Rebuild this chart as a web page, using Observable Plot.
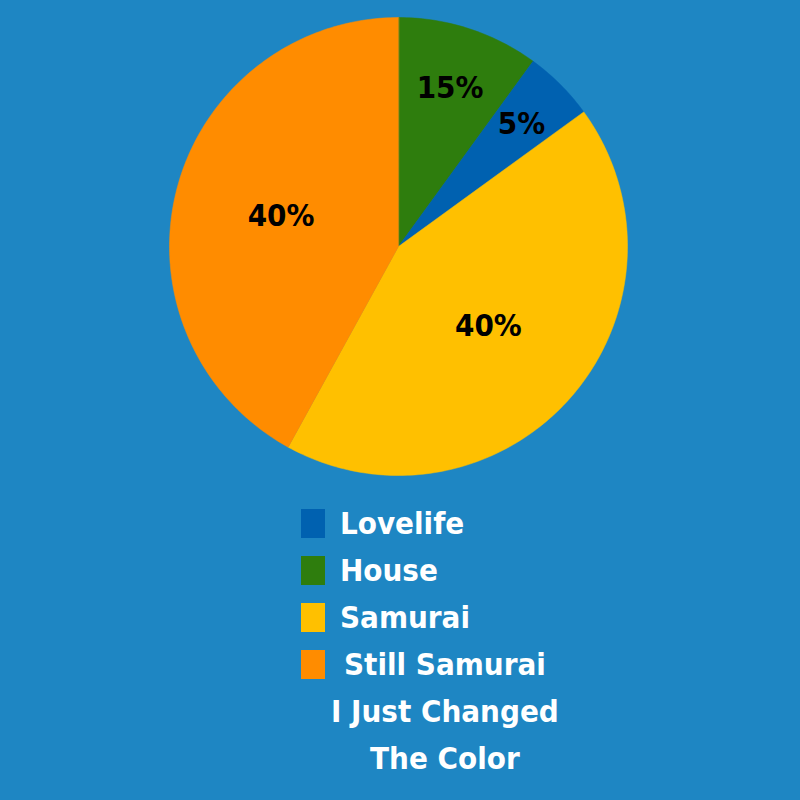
<!DOCTYPE html>
<html><head><meta charset="utf-8">
<script src="https://cdn.jsdelivr.net/npm/d3@7"></script>
<script src="https://cdn.jsdelivr.net/npm/@observablehq/plot@0.6"></script>
<style>
html,body{margin:0;padding:0;background:#1E86C3;width:800px;height:800px;overflow:hidden;}
#legend{margin-top:5px;font-family:"DejaVu Sans Condensed","Liberation Sans Narrow","Roboto",sans-serif;font-stretch:condensed;font-weight:bold;color:#fff;font-size:31px;}
.row{display:flex;align-items:flex-start;height:47px;}
.sw{width:24px;height:29px;margin-left:301px;margin-top:9px;flex:none;}
.tx{line-height:47px;margin-left:15px;white-space:pre;}
.tx.multi{text-align:center;margin-left:6px;}
</style></head><body><div id="chart"></div><div id="legend"></div>
<script>
// data
const categories = ["Lovelife", "House", "Samurai", "Still Samurai"];
const values = [5, 10, 43, 42];            // share of the circle
const pctLabels = ["5%", "15%", "40%", "40%"];
const colors = ["#0061B0", "#2E7D0D", "#FFC000", "#FF8C00"];
const sliceOrder = ["House", "Lovelife", "Samurai", "Still Samurai"]; // clockwise from 12 o'clock
const legendLabels = ["Lovelife", "House", "Samurai", "Still Samurai\nI Just Changed\nThe Color"];

const valueOf = Object.fromEntries(categories.map((c, i) => [c, values[i]]));
const labelOf = Object.fromEntries(categories.map((c, i) => [c, pctLabels[i]]));
const total = d3.sum(values);

// build slice polygons (unit circle) and label anchors
const slices = [], labels = [];
let acc = 0;
for (const c of sliceOrder) {
  const a0 = acc / total * 2 * Math.PI;
  acc += valueOf[c];
  const a1 = acc / total * 2 * Math.PI;
  slices.push({cat: c, x: 0, y: 0});
  const n = Math.max(2, Math.ceil((a1 - a0) / (Math.PI / 180)));
  for (let k = 0; k <= n; k++) {
    const a = a0 + (a1 - a0) * k / n;
    slices.push({cat: c, x: Math.sin(a), y: Math.cos(a)});
  }
  const am = (a0 + a1) / 2;
  const lr = 0.79 - 0.62 * valueOf[c] / total; // small slices: labels nearer the rim
  labels.push({cat: c, text: labelOf[c], x: lr * Math.sin(am), y: lr * Math.cos(am)});
}

const font = '"DejaVu Sans Condensed","Liberation Sans Narrow",Roboto,sans-serif';
const chart = Plot.plot({
  width: 800,
  height: 495,
  marginLeft: 169,
  marginRight: 173,
  marginTop: 17,
  marginBottom: 20,
  x: {domain: [-1, 1], axis: null},
  y: {domain: [-1, 1], axis: null},
  color: {domain: categories, range: colors},
  style: {background: "transparent", fontFamily: font, overflow: "visible"},
  marks: [
    Plot.line(slices, {x: "x", y: "y", z: "cat", fill: "cat", stroke: "cat", strokeWidth: 0.5, curve: "linear-closed"}),
    Plot.text(labels, {x: "x", y: "y", text: "text", fill: "black", fontSize: 31, fontWeight: "bold", fontFamily: font})
  ]
});
document.getElementById("chart").appendChild(chart);

const legend = document.getElementById("legend");
categories.forEach((c, i) => {
  const row = document.createElement("div");
  row.className = "row";
  const sw = document.createElement("div");
  sw.className = "sw";
  sw.style.background = colors[i];
  const tx = document.createElement("div");
  tx.className = "tx" + (legendLabels[i].includes("\n") ? " multi" : "");
  tx.textContent = legendLabels[i];
  row.appendChild(sw);
  row.appendChild(tx);
  legend.appendChild(row);
});
</script></body></html>
